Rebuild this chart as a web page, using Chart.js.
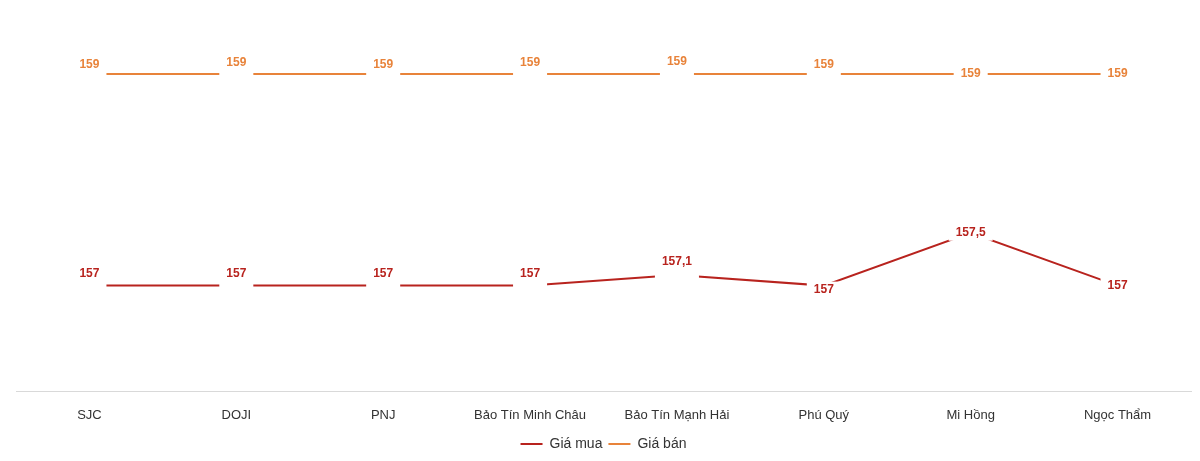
<!DOCTYPE html>
<html><head><meta charset="utf-8">
<script src="https://cdn.jsdelivr.net/npm/chart.js@4/dist/chart.umd.min.js"></script>
<style>html,body{margin:0;background:#fff}#w{width:1200px;height:461px}</style>
</head><body><div id="w"><canvas id="c"></canvas></div>
<script>
const categories=["SJC","DOJI","PNJ","Bảo Tín Minh Châu","Bảo Tín Mạnh Hải","Phú Quý","Mi Hồng","Ngọc Thẩm"];
const buyValues=[157,157,157,157,157.1,157,157.5,157];
const sellValues=[159,159,159,159,159,159,159,159];
const labelOffsets=[[-12,-12,-12,-12,-13,4,0,0],[-9,-11,-9,-11,-12,-9,0,0]];
const labelPlugin={id:'lbl',afterDatasetsDraw(chart){
  const ctx=chart.ctx;ctx.save();
  ctx.font='bold 12px "Liberation Sans", Arial, sans-serif';
  ctx.textAlign='center';ctx.textBaseline='middle';
  chart.data.datasets.forEach((ds,i)=>{
    chart.getDatasetMeta(i).data.forEach((p,j)=>{
      const t=String(ds.data[j]).replace('.',',');
      const w=ctx.measureText(t).width+14;
      const y=p.y+labelOffsets[i][j];
      ctx.fillStyle='#fff';ctx.fillRect(p.x-w/2,Math.min(y-8,p.y-4),w,Math.abs(y-p.y)+16);
      ctx.fillStyle=ds.borderColor;ctx.fillText(t,p.x,y);
    });
  });ctx.restore();}};
new Chart(document.getElementById('c'),{type:'line',
 data:{labels:categories,datasets:[
  {label:'Giá mua',data:buyValues,borderColor:'#B8231E',borderWidth:2,pointRadius:0,tension:0},
  {label:'Giá bán',data:sellValues,borderColor:'#E8833A',borderWidth:2,pointRadius:0,tension:0}]},
 options:{responsive:true,maintainAspectRatio:false,animation:false,
  layout:{padding:{left:16,right:9,top:0,bottom:0}},
  plugins:{legend:{position:'bottom',labels:{boxWidth:22,boxHeight:0,font:{size:14,family:'"Liberation Sans", Arial'},color:'#333',padding:6}},tooltip:{enabled:false}},
  scales:{x:{offset:true,grid:{display:false},border:{color:'#d9d9d9'},ticks:{color:'#333',font:{size:13,family:'"Liberation Sans", Arial'},padding:8}},
   y:{display:false,min:156,max:159.7}}},
 plugins:[labelPlugin]});
</script></body></html>
